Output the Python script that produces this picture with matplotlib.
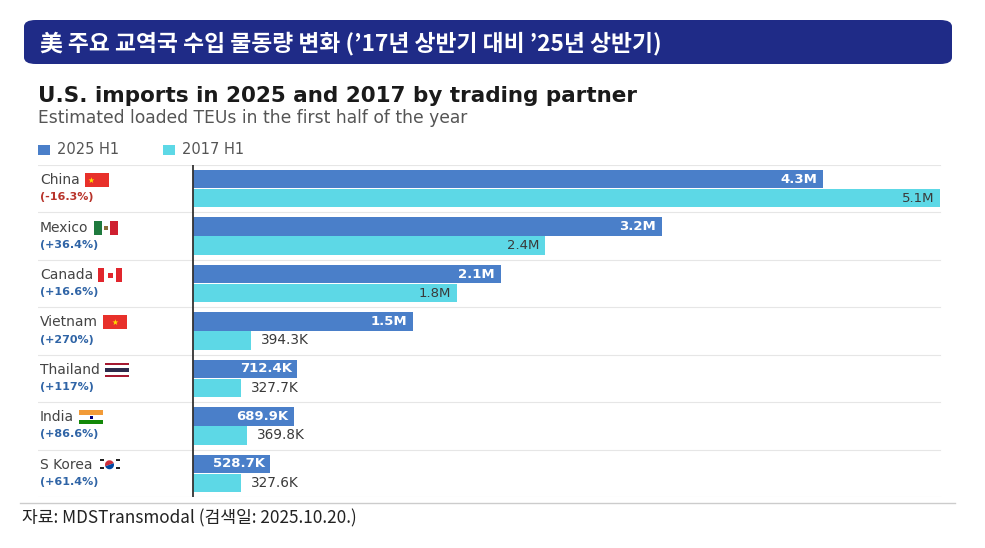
import matplotlib
matplotlib.use('Agg')
import matplotlib.pyplot as plt
from matplotlib.patches import FancyBboxPatch, Rectangle, Wedge
import matplotlib.transforms as mtransforms

countries = ['China', 'Mexico', 'Canada', 'Vietnam', 'Thailand', 'India', 'S Korea']
changes = ['(-16.3%)', '(+36.4%)', '(+16.6%)', '(+270%)', '(+117%)', '(+86.6%)', '(+61.4%)']
v2025 = [4.3, 3.2, 2.1, 1.5, 0.7124, 0.6899, 0.5287]
v2017 = [5.1, 2.4, 1.8, 0.3943, 0.3277, 0.3698, 0.3276]
lab2025 = ['4.3M', '3.2M', '2.1M', '1.5M', '712.4K', '689.9K', '528.7K']
lab2017 = ['5.1M', '2.4M', '1.8M', '394.3K', '327.7K', '369.8K', '327.6K']

W, H = 985, 548
fig = plt.figure(figsize=(W / 100, H / 100), dpi=100)
fig.patch.set_facecolor('white')
kr = ['Noto Sans CJK KR', 'DejaVu Sans']

def fx(px):
    return px / W

def fy(py):
    return 1 - py / H

renderer = fig.canvas.get_renderer()

def fit_text(x, y, s, width_px, **kw):
    t = fig.text(fx(x), fy(y), s, va='center', ha='left', **kw)
    w = t.get_window_extent(renderer).width
    t.set_fontsize(t.get_fontsize() * width_px / w)
    return t

def rect(px, py, w, h, col):
    fig.patches.append(Rectangle((fx(px), fy(py + h)), fx(w), fy(py) - fy(py + h),
                                 transform=fig.transFigure, color=col, lw=0))

# header bar
hdr = FancyBboxPatch((fx(24), fy(64)), fx(928), fy(20) - fy(64),
                     boxstyle='round,pad=0,rounding_size=0.012',
                     transform=fig.transFigure, facecolor='#1f2b87', edgecolor='none')
fig.patches.append(hdr)
fit_text(40, 43, "美 주요 교역국 수입 물동량 변화 (’17년 상반기 대비 ’25년 상반기)", 622,
         color='white', fontsize=16, fontweight='bold', family=kr)

# chart titles
fit_text(38, 96, 'U.S. imports in 2025 and 2017 by trading partner', 602,
         color='#1a1a1a', fontsize=14, fontweight='bold')
fig.text(fx(38), fy(118), 'Estimated loaded TEUs in the first half of the year',
         va='center', ha='left', color='#555555', fontsize=12.3)

c25 = '#4a7fc9'
c17 = '#5dd8e6'

# legend
rect(38, 145, 12, 10, c25)
fig.text(fx(57), fy(150), '2025 H1', va='center', ha='left', color='#555555', fontsize=10.5)
rect(163, 145, 12, 10, c17)
fig.text(fx(182), fy(150), '2017 H1', va='center', ha='left', color='#555555', fontsize=10.5)

# main axes: x from 38px to 945px, y from 165px to 497px
ax = fig.add_axes([fx(38), fy(497), fx(907), fy(165) - fy(497)])
ppu = (940 - 193) / 5.1
ax.set_xlim(-(193 - 38) / ppu, (945 - 193) / ppu)
n = len(countries)
ax.set_ylim(n, 0)
ax.axis('off')

bh = 0.39
for i in range(n):
    ax.barh(i + 0.3, v2025[i], height=bh, color=c25, left=0)
    ax.barh(i + 0.7, v2017[i], height=bh, color=c17, left=0)
    ax.axhline(i + 1, xmin=0, xmax=(940 - 38) / 907, color='#e6e6e6', lw=0.8)

    ax.annotate(lab2025[i], (v2025[i], i + 0.3), xytext=(-4, 0), textcoords='offset points',
                ha='right', va='center', color='white', fontsize=9.5, fontweight='bold')
    if v2017[i] > 1.0:
        ax.annotate(lab2017[i], (v2017[i], i + 0.7), xytext=(-4, 0), textcoords='offset points',
                    ha='right', va='center', color='#3a3a3a', fontsize=9.5)
    else:
        ax.annotate(lab2017[i], (v2017[i], i + 0.7), xytext=(7, 0), textcoords='offset points',
                    ha='left', va='center', color='#3a3a3a', fontsize=9.8)

ax.axhline(0, xmin=0, xmax=(940 - 38) / 907, color='#e6e6e6', lw=0.8)
ax.axvline(0, color='#333333', lw=1.3)

# country labels and flags
trans = mtransforms.blended_transform_factory(fig.transFigure, ax.transData)
for i in range(n):
    t = ax.text(fx(40), i + 0.32, countries[i], transform=trans, ha='left', va='center',
                color='#444444', fontsize=10)
    pc = '#b8332a' if changes[i].startswith('(-') else '#2f64a6'
    ax.text(fx(40), i + 0.68, changes[i], transform=trans, ha='left', va='center',
            color=pc, fontsize=8, fontweight='bold')
    bb = t.get_window_extent(renderer)
    x0 = bb.x1 + 5
    fw, fh = 24, 14
    yc = 165 + (i + 0.32) * (497 - 165) / n
    y0 = yc - fh / 2

    name = countries[i]
    if name in ('China', 'Vietnam'):
        rect(x0, y0, fw, fh, '#e8302a')
        fig.text(fx(x0 + (6 if name == 'China' else fw / 2)), fy(yc), '★',
                 color='#ffde00', fontsize=5.5, ha='center', va='center')
    elif name == 'Mexico':
        rect(x0, y0, fw / 3, fh, '#1f7a3e')
        rect(x0 + fw / 3, y0, fw / 3, fh, '#ffffff')
        rect(x0 + 2 * fw / 3, y0, fw / 3, fh, '#cf2030')
        rect(x0 + fw / 2 - 2, yc - 2, 4, 4, '#8a6d3b')
    elif name == 'Canada':
        rect(x0, y0, fw / 4, fh, '#e1262d')
        rect(x0 + fw / 4, y0, fw / 2, fh, '#ffffff')
        rect(x0 + 3 * fw / 4, y0, fw / 4, fh, '#e1262d')
        rect(x0 + fw / 2 - 2.5, yc - 2.5, 5, 5, '#e1262d')
    elif name == 'Thailand':
        cols = ['#a51931', '#ffffff', '#2d2a4a', '#2d2a4a', '#ffffff', '#a51931']
        for k, col in enumerate(cols):
            rect(x0, y0 + k * fh / 6, fw, fh / 6, col)
    elif name == 'India':
        rect(x0, y0, fw, fh / 3, '#f29b38')
        rect(x0, y0 + fh / 3, fw, fh / 3, '#ffffff')
        rect(x0, y0 + 2 * fh / 3, fw, fh / 3, '#138808')
        rect(x0 + fw / 2 - 1.5, yc - 1.5, 3, 3, '#000080')
    elif name == 'S Korea':
        fa = fig.add_axes([fx(x0), fy(y0 + fh), fx(fw), fy(y0) - fy(y0 + fh)])
        fa.set_xlim(0, fw)
        fa.set_ylim(0, fh)
        fa.axis('off')
        fa.add_patch(Wedge((fw / 2, fh / 2), 4.5, 20, 200, color='#cd2e3a', lw=0))
        fa.add_patch(Wedge((fw / 2, fh / 2), 4.5, 200, 380, color='#0047a0', lw=0))
        for cx, cy in ((4, 11), (20, 11), (4, 3), (20, 3)):
            for k in range(3):
                fa.add_patch(Rectangle((cx - 2, cy - 1.6 + k * 1.3), 4, 0.7, color='#222222', lw=0))

# footer
fig.add_artist(plt.Line2D([fx(20), fx(955)], [fy(503), fy(503)],
                          transform=fig.transFigure, color='#cccccc', lw=1))
fit_text(22, 518, '자료: MDSTransmodal (검색일: 2025.10.20.)', 336,
         color='#222222', fontsize=12, family=kr)

fig.savefig('out.png', dpi=100, facecolor='white')
